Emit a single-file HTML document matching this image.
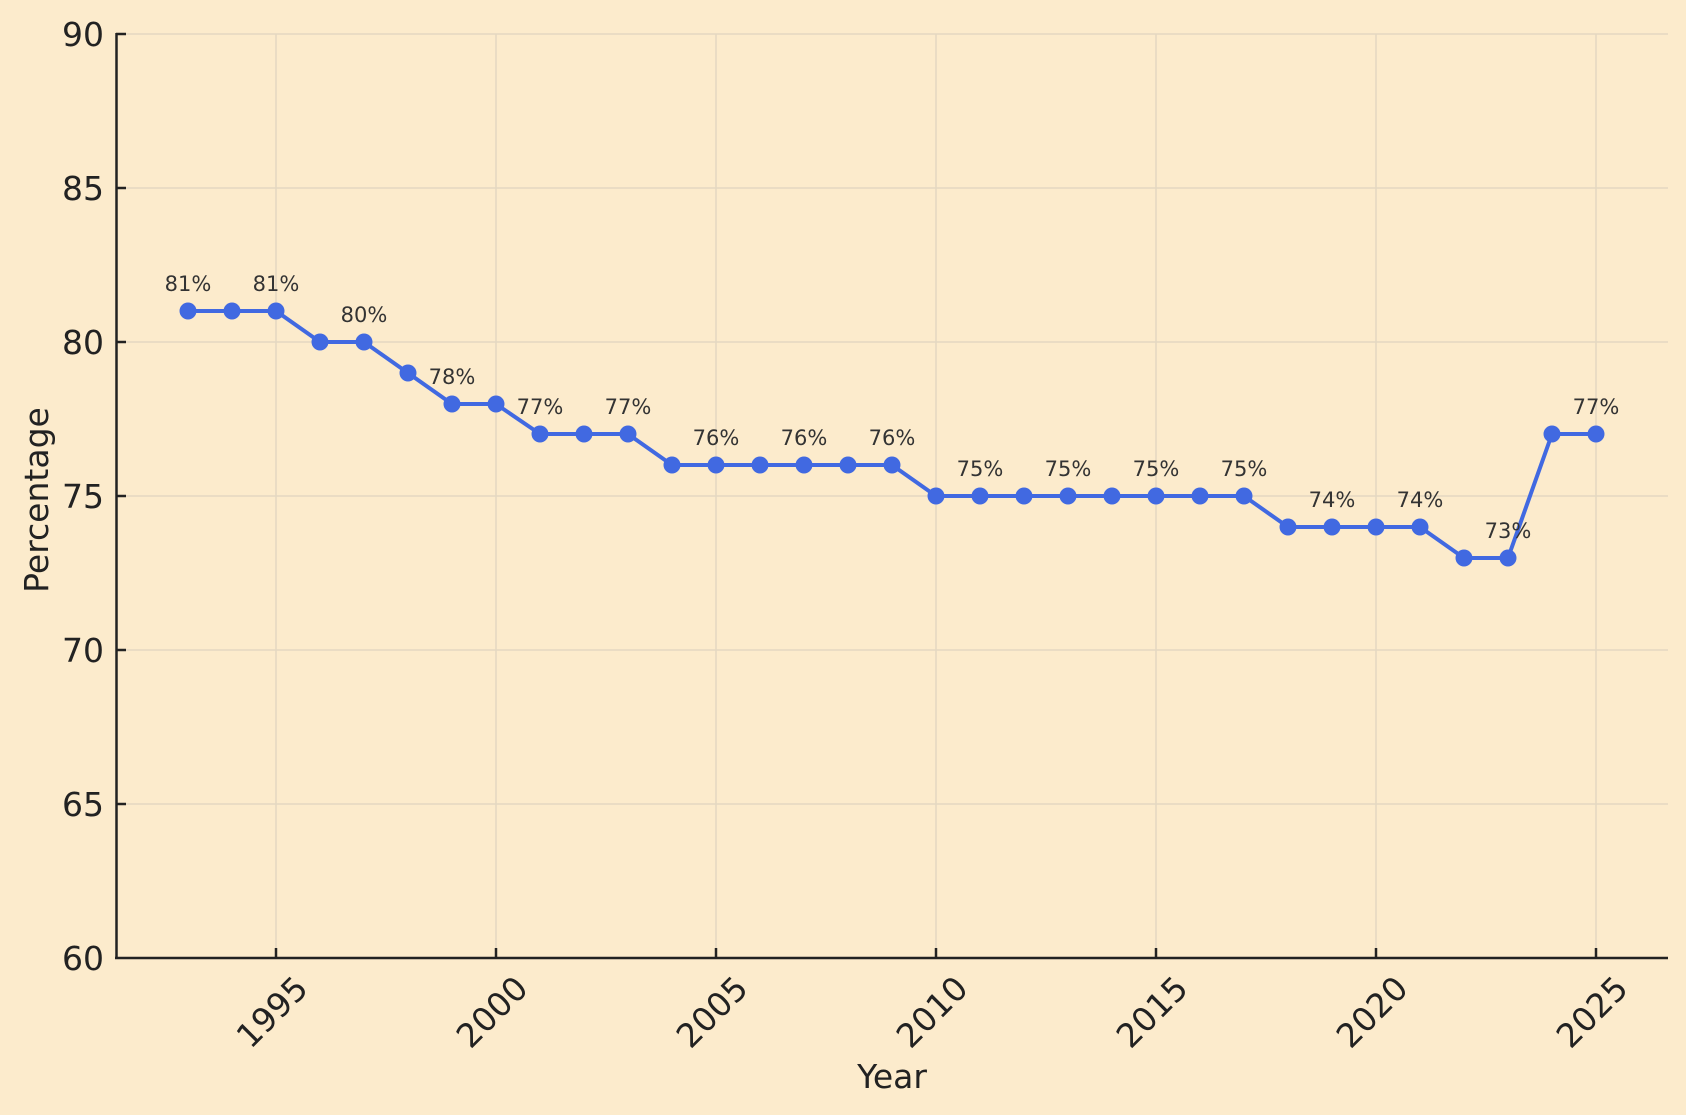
<!DOCTYPE html>
<html><head><meta charset="utf-8"><style>body{margin:0;background:#fcebcc}svg{display:block}</style></head><body>
<svg width="1686" height="1115" xmlns="http://www.w3.org/2000/svg" font-family="DejaVu Sans, Liberation Sans, sans-serif">
<rect width="1686" height="1115" fill="#fcebcc"/>
<g stroke="#e3d8c2" stroke-width="1.5">
<line x1="276" y1="34" x2="276" y2="958"/><line x1="496" y1="34" x2="496" y2="958"/><line x1="716" y1="34" x2="716" y2="958"/><line x1="936" y1="34" x2="936" y2="958"/><line x1="1156" y1="34" x2="1156" y2="958"/><line x1="1376" y1="34" x2="1376" y2="958"/><line x1="1596" y1="34" x2="1596" y2="958"/>
<line x1="116" y1="34" x2="1668" y2="34"/><line x1="116" y1="188" x2="1668" y2="188"/><line x1="116" y1="342" x2="1668" y2="342"/><line x1="116" y1="496" x2="1668" y2="496"/><line x1="116" y1="650" x2="1668" y2="650"/><line x1="116" y1="804" x2="1668" y2="804"/>
</g>
<g stroke="#222" stroke-width="2.5">
<line x1="116.5" y1="33" x2="116.5" y2="959"/><line x1="115" y1="958" x2="1668" y2="958"/>
<line x1="116" y1="34" x2="126" y2="34"/><line x1="116" y1="188" x2="126" y2="188"/><line x1="116" y1="342" x2="126" y2="342"/><line x1="116" y1="496" x2="126" y2="496"/><line x1="116" y1="650" x2="126" y2="650"/><line x1="116" y1="804" x2="126" y2="804"/>
<line x1="276" y1="958" x2="276" y2="948"/><line x1="496" y1="958" x2="496" y2="948"/><line x1="716" y1="958" x2="716" y2="948"/><line x1="936" y1="958" x2="936" y2="948"/><line x1="1156" y1="958" x2="1156" y2="948"/><line x1="1376" y1="958" x2="1376" y2="948"/><line x1="1596" y1="958" x2="1596" y2="948"/>
</g>
<g font-size="33" fill="#222" text-anchor="end">
<text x="104" y="46">90</text><text x="104" y="200">85</text><text x="104" y="354">80</text><text x="104" y="508">75</text><text x="104" y="662">70</text><text x="104" y="816">65</text><text x="104" y="970">60</text>
</g>
<g font-size="33" fill="#222" text-anchor="middle" dominant-baseline="central">
<text transform="translate(272,1012) rotate(-45)">1995</text>
<text transform="translate(492,1012) rotate(-45)">2000</text>
<text transform="translate(712,1012) rotate(-45)">2005</text>
<text transform="translate(932,1012) rotate(-45)">2010</text>
<text transform="translate(1152,1012) rotate(-45)">2015</text>
<text transform="translate(1372,1012) rotate(-45)">2020</text>
<text transform="translate(1592,1012) rotate(-45)">2025</text>
</g>
<text x="892" y="1088" font-size="33" fill="#222" text-anchor="middle">Year</text>
<text transform="translate(48,500) rotate(-90)" font-size="33" fill="#222" text-anchor="middle">Percentage</text>
<polyline fill="none" stroke="#4169e1" stroke-width="4" stroke-linejoin="round" points="188,311 232,311 276,311 320,342 364,342 408,373 452,404 496,404 540,434 584,434 628,434 672,465 716,465 760,465 804,465 848,465 892,465 936,496 980,496 1024,496 1068,496 1112,496 1156,496 1200,496 1244,496 1288,527 1332,527 1376,527 1420,527 1464,558 1508,558 1552,434 1596,434"/>
<g fill="#4169e1">
<circle cx="188" cy="311" r="8.5"/><circle cx="232" cy="311" r="8.5"/><circle cx="276" cy="311" r="8.5"/><circle cx="320" cy="342" r="8.5"/><circle cx="364" cy="342" r="8.5"/><circle cx="408" cy="373" r="8.5"/><circle cx="452" cy="404" r="8.5"/><circle cx="496" cy="404" r="8.5"/><circle cx="540" cy="434" r="8.5"/><circle cx="584" cy="434" r="8.5"/><circle cx="628" cy="434" r="8.5"/><circle cx="672" cy="465" r="8.5"/><circle cx="716" cy="465" r="8.5"/><circle cx="760" cy="465" r="8.5"/><circle cx="804" cy="465" r="8.5"/><circle cx="848" cy="465" r="8.5"/><circle cx="892" cy="465" r="8.5"/><circle cx="936" cy="496" r="8.5"/><circle cx="980" cy="496" r="8.5"/><circle cx="1024" cy="496" r="8.5"/><circle cx="1068" cy="496" r="8.5"/><circle cx="1112" cy="496" r="8.5"/><circle cx="1156" cy="496" r="8.5"/><circle cx="1200" cy="496" r="8.5"/><circle cx="1244" cy="496" r="8.5"/><circle cx="1288" cy="527" r="8.5"/><circle cx="1332" cy="527" r="8.5"/><circle cx="1376" cy="527" r="8.5"/><circle cx="1420" cy="527" r="8.5"/><circle cx="1464" cy="558" r="8.5"/><circle cx="1508" cy="558" r="8.5"/><circle cx="1552" cy="434" r="8.5"/><circle cx="1596" cy="434" r="8.5"/>
</g>
<g font-size="21" fill="#333" text-anchor="middle">
<text x="188" y="291">81%</text><text x="276" y="291">81%</text><text x="364" y="322">80%</text><text x="452" y="384">78%</text><text x="540" y="414">77%</text><text x="628" y="414">77%</text><text x="716" y="445">76%</text><text x="804" y="445">76%</text><text x="892" y="445">76%</text><text x="980" y="476">75%</text><text x="1068" y="476">75%</text><text x="1156" y="476">75%</text><text x="1244" y="476">75%</text><text x="1332" y="507">74%</text><text x="1420" y="507">74%</text><text x="1508" y="538">73%</text><text x="1596" y="414">77%</text>
</g>
</svg>
</body></html>
